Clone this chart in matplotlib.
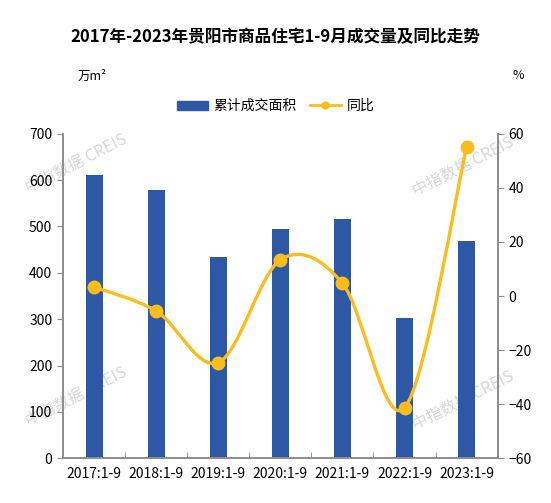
import numpy as np
import matplotlib.pyplot as plt
from matplotlib.path import Path
from matplotlib.patches import PathPatch, Patch
from matplotlib.lines import Line2D

plt.rcParams['font.family'] = ['Noto Sans CJK SC', 'DejaVu Sans']

# data
years = ['2017:1-9', '2018:1-9', '2019:1-9', '2020:1-9', '2021:1-9', '2022:1-9', '2023:1-9']
area = [611, 578, 435, 494, 517, 303, 469]
yoy = [3.3, -5.6, -24.6, 13.4, 4.7, -41.4, 55.0]

bar_color = '#2E58A6'
line_color = '#FBBD1C'
spine_color = '#8C8C8C'

fig = plt.figure(figsize=(5.51, 5.03), dpi=100)
ax = fig.add_axes([0.115, 0.089, 0.788, 0.645])
ax2 = ax.twinx()

x = np.arange(len(years))
ax.bar(x, area, width=0.27, color=bar_color, zorder=2)
ax.set_xlim(-0.5, len(years) - 0.5)
ax.set_ylim(0, 700)
ax.set_yticks(range(0, 701, 100))
ax.set_xticks(x)
ax.set_xticklabels(years, fontsize=10)
ax.set_xticks(np.arange(0.5, len(years) - 0.5, 1), minor=True)
ax.tick_params(axis='x', which='major', length=0, pad=6)
ax.tick_params(axis='x', which='minor', direction='in', length=4, color=spine_color)
ax.tick_params(axis='y', labelsize=10, color=spine_color, length=4, pad=4)

# smooth line through the points (Catmull-Rom as cubic bezier)
pts = np.column_stack([x, yoy]).astype(float)
verts = [tuple(pts[0])]
codes = [Path.MOVETO]
for i in range(len(pts) - 1):
    p0 = pts[i - 1] if i > 0 else pts[i]
    p1 = pts[i]
    p2 = pts[i + 1]
    p3 = pts[i + 2] if i + 2 < len(pts) else pts[i + 1]
    c1 = p1 + (p2 - p0) / 6
    c2 = p2 - (p3 - p1) / 6
    verts += [tuple(c1), tuple(c2), tuple(p2)]
    codes += [Path.CURVE4] * 3
ax2.add_patch(PathPatch(Path(verts, codes), facecolor='none', edgecolor=line_color,
                        lw=2.4, zorder=3, capstyle='round'))
ax2.plot(x, yoy, 'o', color=line_color, ms=9, zorder=4)
ax2.set_ylim(-60, 60)
ax2.set_yticks(range(-60, 61, 20))
ax2.tick_params(axis='y', labelsize=10, color=spine_color, length=4, pad=4)

for a in (ax, ax2):
    a.spines['top'].set_visible(False)
    for s in ('left', 'right', 'bottom'):
        a.spines[s].set_color(spine_color)
        a.spines[s].set_linewidth(1.2)

# watermarks
for wx, wy in [(0.03, 0.91), (0.03, 0.19), (0.92, 0.90), (0.92, 0.18)]:
    ax.text(wx, wy, '中指数据 CREIS', transform=ax.transAxes, fontsize=11.5,
            color='#C8C8C8', alpha=0.7, rotation=27, ha='center', va='center', zorder=1)

fig.text(0.5, 0.926, '2017年-2023年贵阳市商品住宅1-9月成交量及同比走势', ha='center',
         va='center', fontsize=12, fontweight='bold')
fig.text(0.168, 0.849, '万m²', ha='center', va='center', fontsize=9)
fig.text(0.94, 0.849, '%', ha='center', va='center', fontsize=9)

handles = [Patch(color=bar_color),
           Line2D([0], [0], color=line_color, lw=2, marker='o', ms=5)]
fig.legend(handles, ['累计成交面积', '同比'], loc='center', bbox_to_anchor=(0.5, 0.789),
           ncol=2, frameon=False, fontsize=10, handlelength=2.2, handleheight=0.6,
           columnspacing=1.0, handletextpad=0.4)

fig.savefig('out.png', dpi=100)
